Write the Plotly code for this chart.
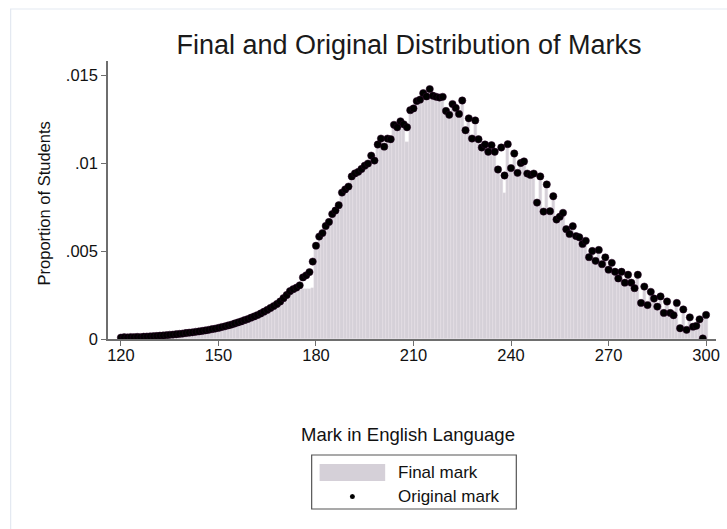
import plotly.graph_objects as go

# ---------------- data ----------------
marks = list(range(120, 301))

original_mark = [
    0.00008, 0.00010, 0.00009, 0.00011, 0.00010, 0.00012, 0.00011, 0.00013, 0.00014, 0.00015,
    0.00016, 0.00017, 0.00019, 0.00020, 0.00022, 0.00024, 0.00025, 0.00027, 0.00029, 0.00031,
    0.00034, 0.00036, 0.00038, 0.00041, 0.00043, 0.00046, 0.00049, 0.00052, 0.00056, 0.00059,
    0.00063, 0.00068, 0.00072, 0.00077, 0.00082, 0.00088, 0.00094, 0.00100, 0.00107, 0.00113,
    0.00121, 0.00128, 0.00136, 0.00145, 0.00155, 0.00165, 0.00176, 0.00187, 0.00199, 0.00213,
    0.00232, 0.00250, 0.00272, 0.00283, 0.00292, 0.00305, 0.00350, 0.00362, 0.00380, 0.00440,
    0.00530, 0.00582, 0.00602, 0.00642, 0.00665, 0.00710, 0.00730, 0.00760, 0.00832, 0.00850,
    0.00866, 0.00924, 0.00941, 0.00950, 0.00966, 0.00985, 0.00997, 0.01042, 0.01014, 0.01105,
    0.01139, 0.01093, 0.01139, 0.01135, 0.01217, 0.01203, 0.01237, 0.01220, 0.01203, 0.01300,
    0.01310, 0.01352, 0.01360, 0.01397, 0.01378, 0.01420, 0.01382, 0.01376, 0.01372, 0.01376,
    0.01296, 0.01274, 0.01335, 0.01313, 0.01279, 0.01355, 0.01186, 0.01254, 0.01139, 0.01242,
    0.01135, 0.01088, 0.01105, 0.01064, 0.01101, 0.01064, 0.00963, 0.01088, 0.00929, 0.01107,
    0.00971, 0.01054, 0.00944, 0.01000, 0.01009, 0.00940, 0.00932, 0.00940, 0.00775, 0.00924,
    0.00724, 0.00878, 0.00726, 0.00811, 0.00679, 0.00695, 0.00717, 0.00624, 0.00597, 0.00641,
    0.00585, 0.00578, 0.00540, 0.00558, 0.00465, 0.00500, 0.00444, 0.00506, 0.00425, 0.00464,
    0.00394, 0.00433, 0.00382, 0.00344, 0.00382, 0.00320, 0.00365, 0.00320, 0.00289, 0.00365,
    0.00205, 0.00298, 0.00193, 0.00268, 0.00230, 0.00184, 0.00242, 0.00148, 0.00213, 0.00148,
    0.00135, 0.00205, 0.00061, 0.00168, 0.00052, 0.00123, 0.00070, 0.00075, 0.00112, 0.00003,
    0.00137,
]

final_mark = [
    0.00008, 0.00010, 0.00009, 0.00011, 0.00010, 0.00012, 0.00011, 0.00013, 0.00014, 0.00015,
    0.00016, 0.00017, 0.00019, 0.00020, 0.00022, 0.00024, 0.00025, 0.00027, 0.00029, 0.00031,
    0.00034, 0.00036, 0.00038, 0.00041, 0.00043, 0.00046, 0.00049, 0.00052, 0.00056, 0.00059,
    0.00063, 0.00068, 0.00072, 0.00077, 0.00082, 0.00088, 0.00094, 0.00100, 0.00107, 0.00113,
    0.00121, 0.00128, 0.00136, 0.00145, 0.00155, 0.00165, 0.00176, 0.00187, 0.00199, 0.00213,
    0.00228, 0.00245, 0.00262, 0.00272, 0.00278, 0.00280, 0.00282, 0.00283, 0.00285, 0.00290,
    0.00540, 0.00575, 0.00598, 0.00635, 0.00660, 0.00702, 0.00725, 0.00755, 0.00825, 0.00845,
    0.00862, 0.00918, 0.00936, 0.00945, 0.00960, 0.00980, 0.00992, 0.01035, 0.01010, 0.01098,
    0.01130, 0.01090, 0.01132, 0.01130, 0.01210, 0.01198, 0.01230, 0.01215, 0.01120, 0.01292,
    0.01302, 0.01345, 0.01352, 0.01372, 0.01370, 0.01378, 0.01372, 0.01368, 0.01365, 0.01368,
    0.01290, 0.01270, 0.01328, 0.01308, 0.01275, 0.01345, 0.01182, 0.01248, 0.01135, 0.01236,
    0.01130, 0.01085, 0.01100, 0.01060, 0.01096, 0.01060, 0.00960, 0.00910, 0.00830, 0.01100,
    0.00968, 0.01050, 0.00940, 0.00996, 0.01005, 0.00936, 0.00928, 0.00936, 0.00772, 0.00920,
    0.00720, 0.00872, 0.00722, 0.00806, 0.00676, 0.00692, 0.00713, 0.00620, 0.00594, 0.00637,
    0.00582, 0.00575, 0.00537, 0.00555, 0.00462, 0.00497, 0.00442, 0.00503, 0.00422, 0.00461,
    0.00392, 0.00430, 0.00380, 0.00342, 0.00380, 0.00318, 0.00362, 0.00318, 0.00287, 0.00362,
    0.00204, 0.00296, 0.00192, 0.00266, 0.00228, 0.00183, 0.00240, 0.00147, 0.00211, 0.00147,
    0.00134, 0.00203, 0.00061, 0.00166, 0.00052, 0.00122, 0.00070, 0.00074, 0.00111, 0.00110,
    0.00136,
]

x_tickvals = [120, 150, 180, 210, 240, 270, 300]
y_tickvals = [0, 0.005, 0.01, 0.015]
y_ticktext = ["0", ".005", ".01", ".015"]

title_text = "Final and Original Distribution of Marks"
x_title = "Mark in English Language"
y_title = "Proportion of Students"
legend_labels = ["Final mark", "Original mark"]

# ---------------- style / layout ----------------
W, H = 727, 529
L, R, T, B = 108, 720, 61, 339      # plot area in pixels
X120, X300 = 121, 710               # pixel positions of marks 120 and 300
Y0, Y015 = 339, 75                  # pixel positions of 0 and .015
FONT = "Liberation Sans, Arial, sans-serif"
BAR_COLOR = "#d5d0d8"
AXIS_COLOR = "#6e6e6e"

xs = (X300 - X120) / 180.0
ys = (Y0 - Y015) / 0.015


def px(x):
    return (x - L) / (R - L)


def py(y):
    return (B - y) / (B - T)


fig = go.Figure()
fig.add_trace(go.Bar(
    x=marks, y=final_mark, width=1.0, name=legend_labels[0],
    marker=dict(color=BAR_COLOR, line=dict(color="#ebe2ec", width=0.4)),
    showlegend=False,
))
fig.add_trace(go.Scatter(
    x=marks, y=original_mark, mode="markers", name=legend_labels[1],
    marker=dict(color="#000000", size=7.3, line=dict(color="#2a0026", width=0.5)),
    showlegend=False,
))

shapes = [
    # outer graph-region frame
    dict(type="rect", xref="paper", yref="paper",
         x0=px(10), x1=px(780), y0=py(580), y1=py(9),
         line=dict(color="#e3e9f1", width=1.2), fillcolor="rgba(0,0,0,0)", layer="below"),
    # legend box
    dict(type="rect", xref="paper", yref="paper",
         x0=px(313), x1=px(519), y0=py(509), y1=py(455),
         line=dict(color="#555555", width=1.2), fillcolor="white"),
    # legend bar swatch
    dict(type="rect", xref="paper", yref="paper",
         x0=px(321), x1=px(387), y0=py(481), y1=py(464),
         line=dict(width=0), fillcolor=BAR_COLOR),
    # legend dot
    dict(type="circle", xref="paper", yref="paper",
         x0=px(351.5), x1=px(356.5), y0=py(499), y1=py(494),
         line=dict(width=0), fillcolor="black"),
]

annotations = [
    dict(text=x_title, xref="paper", yref="paper", x=px(410), y=py(434),
         xanchor="center", yanchor="middle", showarrow=False,
         font=dict(size=18.5, color="#111111", family=FONT)),
    dict(text=y_title, xref="paper", yref="paper", x=px(44), y=py(203),
         xanchor="center", yanchor="middle", showarrow=False, textangle=-90,
         font=dict(size=16.5, color="#111111", family=FONT)),
    dict(text=legend_labels[0], xref="paper", yref="paper", x=px(398), y=py(472),
         xanchor="left", yanchor="middle", showarrow=False,
         font=dict(size=17, color="#111111", family=FONT)),
    dict(text=legend_labels[1], xref="paper", yref="paper", x=px(398), y=py(496),
         xanchor="left", yanchor="middle", showarrow=False,
         font=dict(size=17, color="#111111", family=FONT)),
]

fig.update_layout(
    width=W, height=H,
    margin=dict(l=L, r=W - R, t=T, b=H - B, pad=0),
    paper_bgcolor="white", plot_bgcolor="white",
    bargap=0,
    font=dict(family=FONT, color="#111111", size=16),
    title=dict(text=title_text, xref="container", yref="container",
               x=409 / W, y=1 - 45 / H, xanchor="center", yanchor="middle",
               font=dict(size=27, color="#1a1a1a", family=FONT)),
    shapes=shapes,
    annotations=annotations,
    showlegend=False,
)

fig.update_xaxes(
    range=[120 - (X120 - L) / xs, 300 + (R - X300) / xs],
    tickvals=x_tickvals, ticks="outside", ticklen=5, tickwidth=1.2, tickcolor=AXIS_COLOR,
    ticklabelstandoff=-5,
    showline=True, linecolor=AXIS_COLOR, linewidth=1.5,
    showgrid=False, zeroline=False,
    tickfont=dict(size=16.5, color="#111111", family=FONT),
)
fig.update_yaxes(
    range=[0, 0.015 + (Y015 - T) / ys],
    tickvals=y_tickvals, ticktext=y_ticktext, ticks="outside", ticklen=5, tickwidth=1.2,
    tickcolor=AXIS_COLOR, ticklabelstandoff=0,
    showline=True, linecolor=AXIS_COLOR, linewidth=1.5,
    showgrid=False, zeroline=False,
    tickfont=dict(size=16.5, color="#111111", family=FONT),
)

fig.write_html("out.html", config={"displayModeBar": False},
               post_script="document.body.style.margin='0';")
